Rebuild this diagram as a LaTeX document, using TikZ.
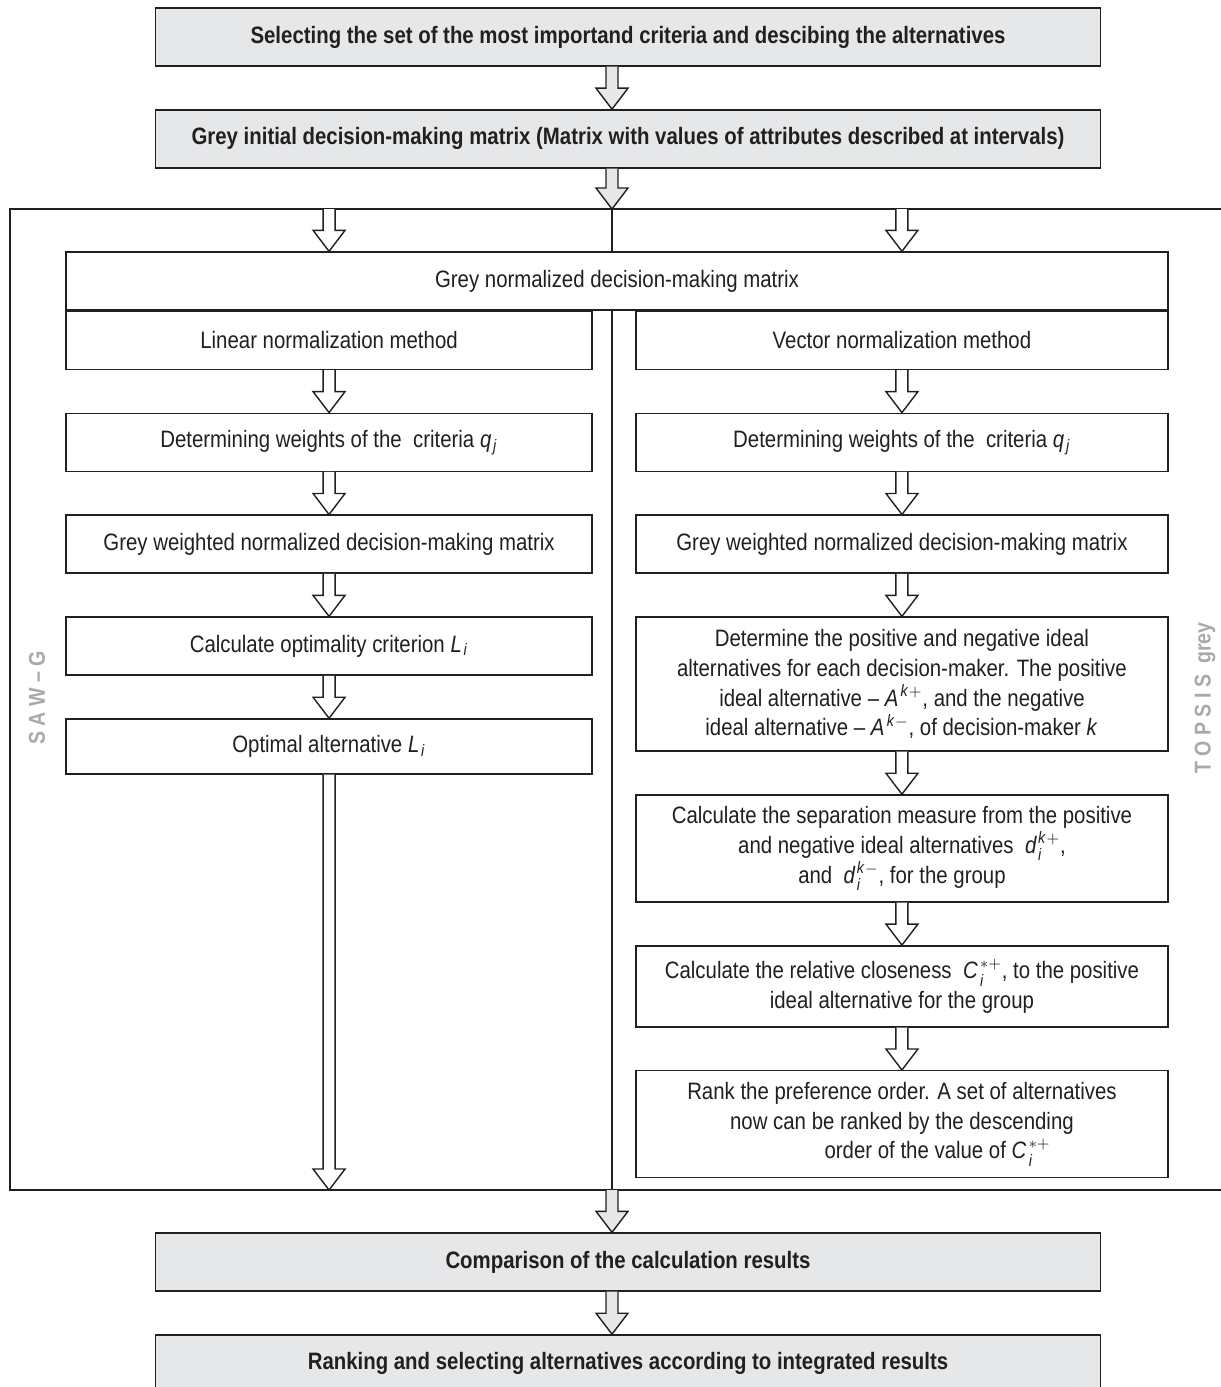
\documentclass[tikz,border=0pt]{standalone}
\usepackage{amsmath}
\usepackage{fontspec}
\setmainfont{Liberation Sans}[FakeStretch=0.86]
\usepackage{tikz}
\usetikzlibrary{positioning,calc}
\definecolor{boxgrey}{HTML}{E6E7E8}
\definecolor{labelgrey}{HTML}{A7A9AC}
\definecolor{linegrey}{HTML}{231F20}
\newcommand{\boxfont}{\fontsize{13.5}{15}\selectfont}
\newcommand{\tallfont}{\fontsize{13.5}{17}\selectfont}
% block arrow from #2 down to #3
\newcommand{\blockarrow}[3][white]{%
  \draw[fill=#1] ($(#2)+(-6,0)$) -- ($(#3)+(-6,-21)$) -- ($(#3)+(-16,-21)$)
    -- (#3) -- ($(#3)+(16,-21)$) -- ($(#3)+(6,-21)$) -- ($(#2)+(6,0)$);}

\begin{document}
\begin{tikzpicture}[x=0.02cm,y=-0.02cm,node distance=0.85cm,line width=0.8pt,color=linegrey,
   mainbox/.style={draw, fill=boxgrey, font=\boxfont\bfseries, minimum width=18.9cm, minimum height=1.16cm, inner sep=0pt},
   stepbox/.style={draw, fill=white, font=\boxfont, minimum width=10.52cm, minimum height=1.16cm, align=center, inner sep=2pt},
   rstep/.style={stepbox, minimum width=10.64cm},
   tallstep/.style={rstep, font=\tallfont},
   sidelabel/.style={rotate=90, text=labelgrey, font=\fontsize{13}{15}\selectfont\bfseries}]
   \useasboundingbox (0,0) rectangle (1221,1387);
   \coordinate (mid) at (612,0);
   \coordinate (fnw) at (10,209);
   \coordinate (fsw) at (10,1190);

   % frame and middle line
   \draw (1230,209) -- (fnw) -- (fsw) -- (1230,1190);
   \draw (mid |- fnw) -- (mid |- fsw);

   \node[mainbox] (select) at (628,37) {Selecting the set of the most importand criteria and descibing the alternatives};
   \node[mainbox] (initial) [below=of select] {Grey initial decision-making matrix (Matrix with values of attributes described at intervals)};

   \node[stepbox, minimum width=22.04cm] (norm) at (617,281) {Grey normalized decision-making matrix};
   \node[stepbox, anchor=north west] (linear) at (norm.south west) {Linear normalization method};
   \node[rstep, anchor=north east]   (vector) at (norm.south east) {Vector normalization method};

   \node[stepbox] (lweights)  [below=of linear]    {Determining weights of the \ criteria $\mathit{q}_{\mathit{j}}$};
   \node[stepbox] (lweighted) [below=of lweights]  {Grey weighted normalized decision-making matrix};
   \node[stepbox] (optcrit)   [below=of lweighted] {Calculate optimality criterion $\mathit{L}_{\mathit{i}}$};
   \node[stepbox, minimum height=1.1cm] (optalt) [below=of optcrit] {Optimal alternative $\mathit{L}_{\mathit{i}}$};

   \node[rstep] (rweights)  [below=of vector]   {Determining weights of the \ criteria $\mathit{q}_{\mathit{j}}$};
   \node[rstep] (rweighted) [below=of rweights] {Grey weighted normalized decision-making matrix};
   \node[tallstep, minimum height=2.68cm] (ideal) [below=of rweighted]
      {Determine the positive and negative ideal\\ alternatives for each decision-maker. The positive\\
       ideal alternative -- $\mathit{A}^{\mathit{k}+}$, and the negative\\ ideal alternative -- $\mathit{A}^{\mathit{k}-}$, of decision-maker $\mathit{k}$};
   \node[tallstep, minimum height=2.14cm] (separation) [below=of ideal]
      {Calculate the separation measure from the positive\\ and negative ideal alternatives \ $\mathit{d}_{\mathit{i}}^{\mathit{k}+}$,\\
       and \ $\mathit{d}_{\mathit{i}}^{\mathit{k}-}$, for the group};
   \node[tallstep, minimum height=1.62cm] (closeness) [below=of separation]
      {Calculate the relative closeness \ $\mathit{C}_{\mathit{i}}^{*+}$, to the positive\\ ideal alternative for the group};
   \node[tallstep, minimum height=2.14cm] (rank) [below=of closeness]
      {Rank the preference order. A set of alternatives\\ now can be ranked by the descending\\
       \hspace*{3em}order of the value of $\mathit{C}_{\mathit{i}}^{*+}$};

   \node[mainbox] (compare) at (628,1262) {Comparison of the calculation results};
   \node[mainbox] (ranking) [below=of compare] {Ranking and selecting alternatives according to integrated results};

   \node[sidelabel] (sawlabel) at (37,698) {S A W -- G};
   \node[sidelabel] (topsislabel) at (1205,698) {T O P S I S \ grey};

   % arrows
   \blockarrow[boxgrey]{select.south -| mid}{initial.north -| mid}
   \blockarrow[boxgrey]{initial.south -| mid}{mid |- fnw}
   \blockarrow{linear |- fnw}{norm.north -| linear}
   \blockarrow{vector |- fnw}{norm.north -| vector}
   \foreach \a/\b in {linear/lweights, lweights/lweighted, lweighted/optcrit, optcrit/optalt,
                      vector/rweights, rweights/rweighted, rweighted/ideal, ideal/separation,
                      separation/closeness, closeness/rank}
      \blockarrow{\a.south}{\b.north};
   \blockarrow{optalt.south}{optalt.south |- fsw}
   \blockarrow[boxgrey]{mid |- fsw}{compare.north -| mid}
   \blockarrow[boxgrey]{compare.south -| mid}{ranking.north -| mid}
\end{tikzpicture}
\end{document}
